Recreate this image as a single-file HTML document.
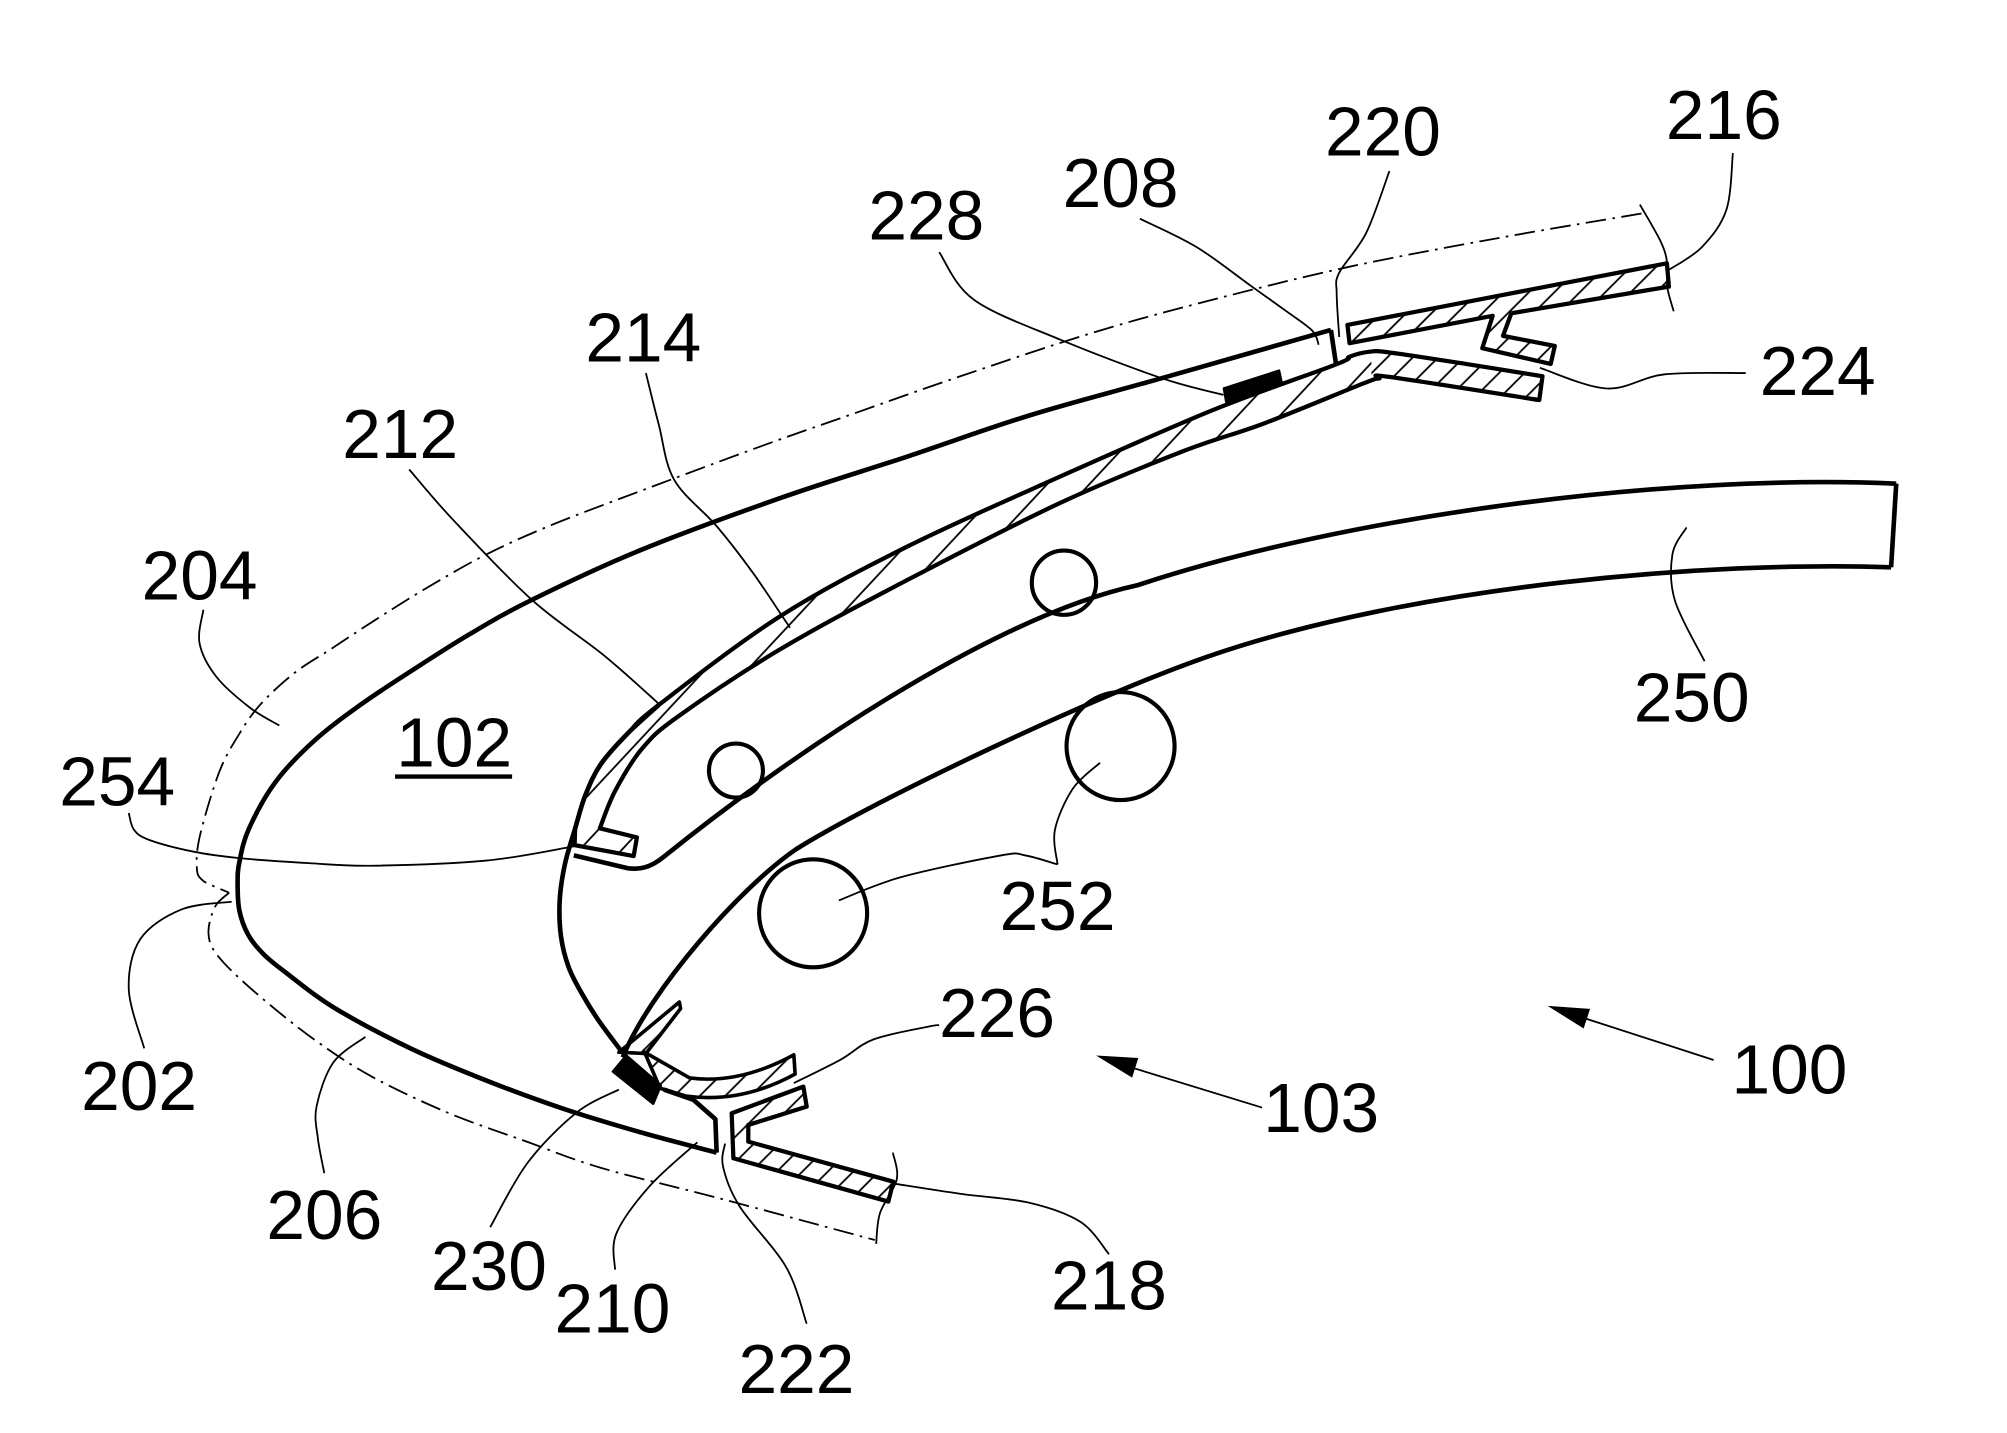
<!DOCTYPE html>
<html><head><meta charset="utf-8"><style>
html,body{margin:0;padding:0;background:#fff;}
svg{display:block;}
text{font-family:"Liberation Sans",Arial,sans-serif;font-size:54px;fill:#000;text-anchor:middle;}
</style></head><body>
<svg width="2007" height="1433" viewBox="0 0 1560 1114" xmlns="http://www.w3.org/2000/svg">
<defs>
<pattern id="hb" patternUnits="userSpaceOnUse" width="24" height="24" patternTransform="rotate(43)"><line x1="12" y1="-2" x2="12" y2="26" stroke="#000" stroke-width="1.4"/></pattern>
<pattern id="hs" patternUnits="userSpaceOnUse" width="14" height="14" patternTransform="rotate(45)"><line x1="7" y1="-2" x2="7" y2="16" stroke="#000" stroke-width="1.4"/></pattern>
</defs>
<rect width="1560" height="1114" fill="#fff"/>

<!-- dash-dot nacelle outline -->
<g fill="none" stroke="#000" stroke-width="1.4" stroke-dasharray="16 5 2 5">
<polyline class="c" points="1276,166 1165,185 1046,208 931,236 845,260 745,293 665,321 594,346 497,382 429,408 378,431 330,458 290,483 258,504 229,523 202,548 185,572 170,601 155,651 153,676 157,684 164,688 178,694"/>
<polyline class="c" points="178,694 167,705 162,726 170,744 199.5,772.5 244,808 289,837 348,865 408,887 467.5,908 557,931 680,964"/>
</g>
<!-- break lines -->
<g fill="none" stroke="#000" stroke-width="1.4">
<polyline class="c" points="1274.7,159 1291,188 1296,205 1296,223 1301,242"/>
<polyline class="c" points="694,896 697,917 684,943 681,967"/>
</g>

<!-- band 250 -->
<g fill="none" stroke="#000" stroke-width="3.6" stroke-linejoin="round">
<path d="M1474,376 C1300,368 1050,400 884,455 C770,480 610,590 516,666 C505,675 497,676 488,675 L446,665"/>
<path d="M1470,441 C1330,436 1100,455 940,510 C850,541 680,622 619,660 C575,690 505,770 484,822"/>
<line x1="1474" y1="376" x2="1470" y2="441"/>
</g>
<!-- circles 252 -->
<g fill="none" stroke="#000" stroke-width="3.2">
<circle cx="827" cy="453" r="25"/>
<circle cx="572" cy="599" r="21"/>
<circle cx="871" cy="580" r="42"/>
<circle cx="632" cy="710" r="42"/>
</g>

<!-- outer skin -->
<g fill="none" stroke="#000" stroke-width="3.6" stroke-linejoin="round">
<polyline class="c" points="1034.5,256.5 903,294 800,323 705,355 607,387 497,428 414,466 365,493 319,522 280,548 244,576 214,608 193.5,644 186,670 184.6,687 186,708 193,727 205,742 222,756 259,783 319,815 378,840 438,862 497,880 557,896"/>
<polyline points="557,896 556,870 539,855 516,847"/>
<line x1="1034.5" y1="256.5" x2="1038.5" y2="283"/>
<!-- inner cowl curve 212 -->
<polyline class="c" points="512,548 488,570 467,594 455,618 447,644 439,672 435,700 436,728 442,752 452,772 465,793 482,816"/>
</g>

<!-- big hatched strip 214/224 -->
<path id="strip" d="M1199,292.5 L1080,274 L1064,273.5 L1049,277.3 L1038,283.5 L943,318.7 L824,370.5 L705,425 L606,479.3 L512,548 L488,570 L467,594 L455,618 L447,644 L446.6,657 L492.5,665.5 L495,651 L466.2,643.9 L478,615 L499,582 L527,557 L606,505 L705,451 L824,391 L919,351 L983,329 L1060,298 L1072,294.2 L1080,293 L1196.5,311 Z" fill="url(#hb)" stroke="none"/>
<polygon points="1066,272 1080,274 1199,292.5 1196.5,311 1080,293 1066,297" fill="#fff"/>
<polygon points="1066,272 1080,274 1199,292.5 1196.5,311 1080,293 1066,297" fill="url(#hs)"/>
<path id="stripo" d="M1199,292.5 L1080,274 L1064,273.5 L1049,277.3 L1038,283.5 L943,318.7 L824,370.5 L705,425 L606,479.3 L512,548 L488,570 L467,594 L455,618 L447,644 L446.6,657 L492.5,665.5 L495,651 L466.2,643.9 L478,615 L499,582 L527,557 L606,505 L705,451 L824,391 L919,351 L983,329 L1060,298 L1072,294.2 L1080,293 L1196.5,311 Z" fill="none" stroke="#000" stroke-width="3.3" stroke-linejoin="round"/>

<!-- 228 block -->
<polygon points="951.4,302 994.2,288.2 996.3,298.1 953.2,312.3" fill="#000" stroke="#000" stroke-width="2" stroke-linejoin="round"/>

<!-- upper strip 216 -->
<polygon points="1047.4,252.6 1295.7,204.7 1297.3,222.8 1174.8,243.5 1168.3,261.1 1208.6,268.9 1205.4,282.9 1152.2,270.7 1160.3,245.5 1049,266.8" fill="url(#hs)" stroke="#000" stroke-width="3.3" stroke-linejoin="round"/>

<!-- lower pieces -->
<polygon points="481,818 528,779 529,784 502,819" fill="url(#hs)" stroke="#000" stroke-width="2.8" stroke-linejoin="round"/>
<path d="M501,818 L536,838 Q575,843 617,820 L618,835 Q576,858 533,852 L513,846 Z" fill="url(#hs)" stroke="#000" stroke-width="2.8" stroke-linejoin="round"/>
<polygon points="476.4,833 486.8,820.6 513.6,843.8 507.7,858" fill="#000" stroke="#000" stroke-width="2" stroke-linejoin="round"/>
<polygon points="568.7,865.4 624.4,844.7 627,860.3 581.6,874.5 581.6,887.5 694.3,918.6 690.5,934.1 570,900.4" fill="url(#hs)" stroke="#000" stroke-width="3.3" stroke-linejoin="round"/>

<!-- leaders -->
<g fill="none" stroke="#000" stroke-width="1.4">
<polyline class="c" points="1347,119 1342,163 1323,192 1297,210"/>
<polyline class="c" points="1080,133 1062,181 1041,212 1039,228 1041,262"/>
<polyline class="c" points="886,170 930,192 972,222 1000,242 1020,257 1025,268"/>
<polyline class="c" points="730,196 757,233 824,264 903,294 951,307"/>
<polyline class="c" points="502,290 512,330 524,373 557,409 585,445 610,482 614,488"/>
<polyline class="c" points="318,365 352,404 413,466 470,510 513,548"/>
<polyline class="c" points="158,474 155,500 168,526 194,550 217,564"/>
<polyline class="c" points="100,632 104,645 116,653 150,662 185,667 240,671 289,673 378,669 446,658"/>
<polyline class="c" points="180,701 141,707 109,730 100,769 112,815"/>
<polyline class="c" points="284,806 259,826 246,860 247,885 252,912"/>
<polyline class="c" points="481,847 448,865 410,904 381,954"/>
<polyline class="c" points="542,888 505,922 479,959 478,987"/>
<polyline class="c" points="563.5,889 562,907 575,938 611,985 627,1029"/>
<polyline class="c" points="694,920 746,928 800,935 840,950 862,975"/>
<polyline class="c" points="617,842 653,824 679,808 722,798 730,797"/>
<polyline class="c" points="1197,286 1249,302 1294,291 1357,290"/>
<polyline class="c" points="1311,410 1300,431 1302,467 1325,514"/>
<polyline class="c" points="652,700 700,682 778,665 797,665 822,672"/>
<polyline class="c" points="822,672 820,645 834,613 855,593"/>
<line x1="1332" y1="824" x2="1230" y2="791"/>
<line x1="981" y1="861" x2="880" y2="830"/>
</g>
<!-- arrowheads -->
<polygon points="1203,782 1236,784.3 1231,799.5" fill="#000"/>
<polygon points="852,820.5 884.8,822.5 880,837.7" fill="#000"/>

<!-- labels -->
<g transform="translate(-5,-2)">
<text x="1345" y="110">216</text>
<text x="1080" y="123">220</text>
<text x="876" y="163">208</text>
<text x="725" y="188">228</text>
<text x="505" y="283">214</text>
<text x="316" y="358">212</text>
<text x="160" y="468">204</text>
<text x="358" y="598">102</text>
<text x="96" y="628">254</text>
<text x="1418" y="309">224</text>
<text x="1320" y="563">250</text>
<text x="827" y="725">252</text>
<text x="113" y="865">202</text>
<text x="780" y="808">226</text>
<text x="1396" y="852">100</text>
<text x="1032" y="882">103</text>
<text x="257" y="965">206</text>
<text x="385" y="1005">230</text>
<text x="481" y="1038">210</text>
<text x="867" y="1020">218</text>
<text x="624" y="1085">222</text>
</g>
<rect x="307" y="602" width="91" height="3.4" fill="#000"/>
</svg>
<script>
(function(){
function sm(pts){
  var d='';
  for(var i=0;i<pts.length-1;i++){
    var p0=pts[i-1]||pts[i],p1=pts[i],p2=pts[i+1],p3=pts[i+2]||p2;
    var c1=[(p1[0]+(p2[0]-p0[0])/6).toFixed(2),(p1[1]+(p2[1]-p0[1])/6).toFixed(2)];
    var c2=[(p2[0]-(p3[0]-p1[0])/6).toFixed(2),(p2[1]-(p3[1]-p1[1])/6).toFixed(2)];
    d+=' C'+c1.join(',')+' '+c2.join(',')+' '+p2.join(',');
  }
  return d;
}
function parse(s){return s.trim().split(/\s+/).map(function(p){return p.split(',').map(Number);});}
var NS='http://www.w3.org/2000/svg';
var pls=document.querySelectorAll('polyline.c');
for(var k=0;k<pls.length;k++){
  var pl=pls[k];var pts=parse(pl.getAttribute('points'));
  var path=document.createElementNS(NS,'path');
  for(var j=0;j<pl.attributes.length;j++){var a=pl.attributes[j];if(a.name!=='points'&&a.name!=='class')path.setAttribute(a.name,a.value);}
  path.setAttribute('d','M'+pts[0].join(',')+sm(pts));
  pl.parentNode.replaceChild(path,pl);
}
var top=parse("1199,292.5 1140,283 1080,274 1064,273.5 1049,277.3 1038,283.5 943,318.7 824,370.5 705,425 606,479.3 512,548 488,570 467,594 455,618 447,644");
var bot=parse("466.2,643.9 478,615 499,582 527,557 606,505 705,451 824,391 919,351 983,329 1060,298 1072,294.2 1080,293 1196.5,311");
var d='M'+top[0].join(',')+sm(top)+' L446.6,657 L492.5,665.5 L495,651 L466.2,643.9'+sm(bot)+' Z';
document.getElementById('strip').setAttribute('d',d);
document.getElementById('stripo').setAttribute('d',d);
})();
</script>
</body></html>
